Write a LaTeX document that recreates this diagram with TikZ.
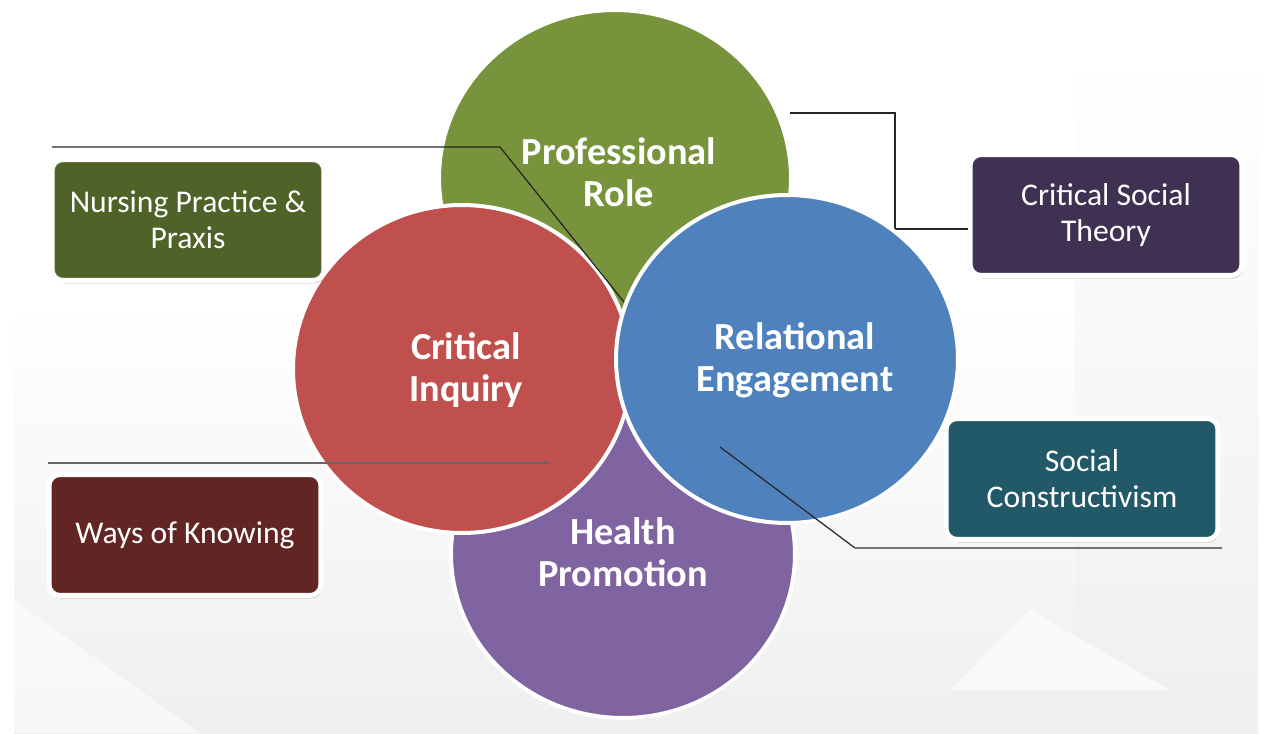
\documentclass[tikz,border=0pt]{standalone}
\usepackage{fontspec}
\setmainfont{Carlito}
\usetikzlibrary{shapes.geometric, shadows, positioning}

\definecolor{rolegreen}{HTML}{77933C}
\definecolor{inquiryred}{HTML}{C0504D}
\definecolor{relationblue}{HTML}{4F81BD}
\definecolor{healthpurple}{HTML}{8064A2}
\definecolor{praxisgreen}{HTML}{4F6228}
\definecolor{theoryplum}{HTML}{3F3151}
\definecolor{constructteal}{HTML}{215968}
\definecolor{knowingmaroon}{HTML}{632523}
\definecolor{slidegrey}{HTML}{EFEFEF}

\tikzset{
    bubble/.style={ellipse, draw=white, line width=0.08cm, inner sep=0pt,
        drop shadow={shadow xshift=0.6pt, shadow yshift=-1pt, opacity=0.15, fill=black}},
    bubbletext/.style={text=white, align=center, inner sep=0pt,
        font=\bfseries\fontsize{21.8}{24}\selectfont},
    infobox/.style={rounded corners=0.22cm, draw=white, line width=0.1cm, text=white,
        align=center, minimum width=5.44cm, minimum height=2.42cm,
        font=\fontsize{18}{20.5}\selectfont,
        drop shadow={shadow xshift=0.8pt, shadow yshift=-1.6pt, opacity=0.25, fill=black}},
    leader/.style={draw=black!85, line width=0.7pt},
}

\begin{document}
\begin{tikzpicture}[x=0.02cm, y=-0.02cm]
    \useasboundingbox (0,0) rectangle (1263,733);

    % slide background
    \fill[white] (0,0) rectangle (1263,733);
    \shade[top color=white, bottom color=slidegrey] (14,300) rectangle (1258,733);
    \shade[top color=white, bottom color=slidegrey] (1075,50) rectangle (1258,733);
    \fill[white, opacity=0.6] (950,690) -- (1030,610) -- (1170,690) -- cycle;
    \fill[white, opacity=0.5] (14,600) -- (200,733) -- (14,733) -- cycle;

    % the four circles
    \node[bubble, fill=rolegreen, minimum width=7.04cm, minimum height=6.72cm]
        (role) at (615,178) {};
    \node[bubbletext] (rolelabel) at (619,172) {Professional\\Role};
    \node[bubble, fill=healthpurple, minimum width=6.88cm, minimum height=6.56cm]
        (health) at (623,554) {};
    \node[bubbletext] (healthlabel) at (623,552) {Health\\Promotion};
    \node[bubble, fill=inquiryred, minimum width=6.76cm, minimum height=6.56cm]
        (inquiry) at (462,369) {};
    \node[bubbletext] (inquirylabel) at (466,370) {Critical\\Inquiry};

    % side boxes
    \node[infobox, fill=praxisgreen] (praxis) at (188,220) {Nursing Practice \&\\Praxis};
    \node[infobox, fill=theoryplum] (theory) at (1106,215) {Critical Social\\Theory};
    \node[infobox, fill=constructteal] (construct) at (1082,479) {Social\\Constructivism};
    \node[infobox, fill=knowingmaroon] (knowing) at (185,535) {Ways of Knowing};

    % leader lines under the blue circle
    \coordinate (praxisA) at (52,147);
    \coordinate (praxisB) at (500,147);
    \coordinate (praxisC) at (632,312);
    \draw[leader] (praxisA) -- (praxisB) -- (praxisC);

    \coordinate (theoryA) at (790,113);
    \coordinate (theoryB) at (895,113);
    \coordinate (theoryC) at (895,229);
    \draw[leader] (theoryA) -- (theoryB) -- (theoryC) -- (theory.west |- theoryC);

    \coordinate (knowingA) at (48,463);
    \coordinate (knowingB) at (550,463);
    \draw[leader, draw=black!60, line width=1pt] (knowingA) -- (knowingB);

    \node[bubble, fill=relationblue, minimum width=6.84cm, minimum height=6.56cm]
        (relation) at (787,359) {};
    \node[bubbletext] (relationlabel) at (795,360) {Relational\\Engagement};

    % leader line over the blue circle
    \coordinate (constructA) at (720,447);
    \coordinate (constructB) at (855,548);
    \coordinate (constructC) at (1222,548);
    \draw[leader] (constructA) -- (constructB);
    \draw[leader, draw=black!55, line width=1.1pt] (constructB) -- (constructC);
\end{tikzpicture}
\end{document}
